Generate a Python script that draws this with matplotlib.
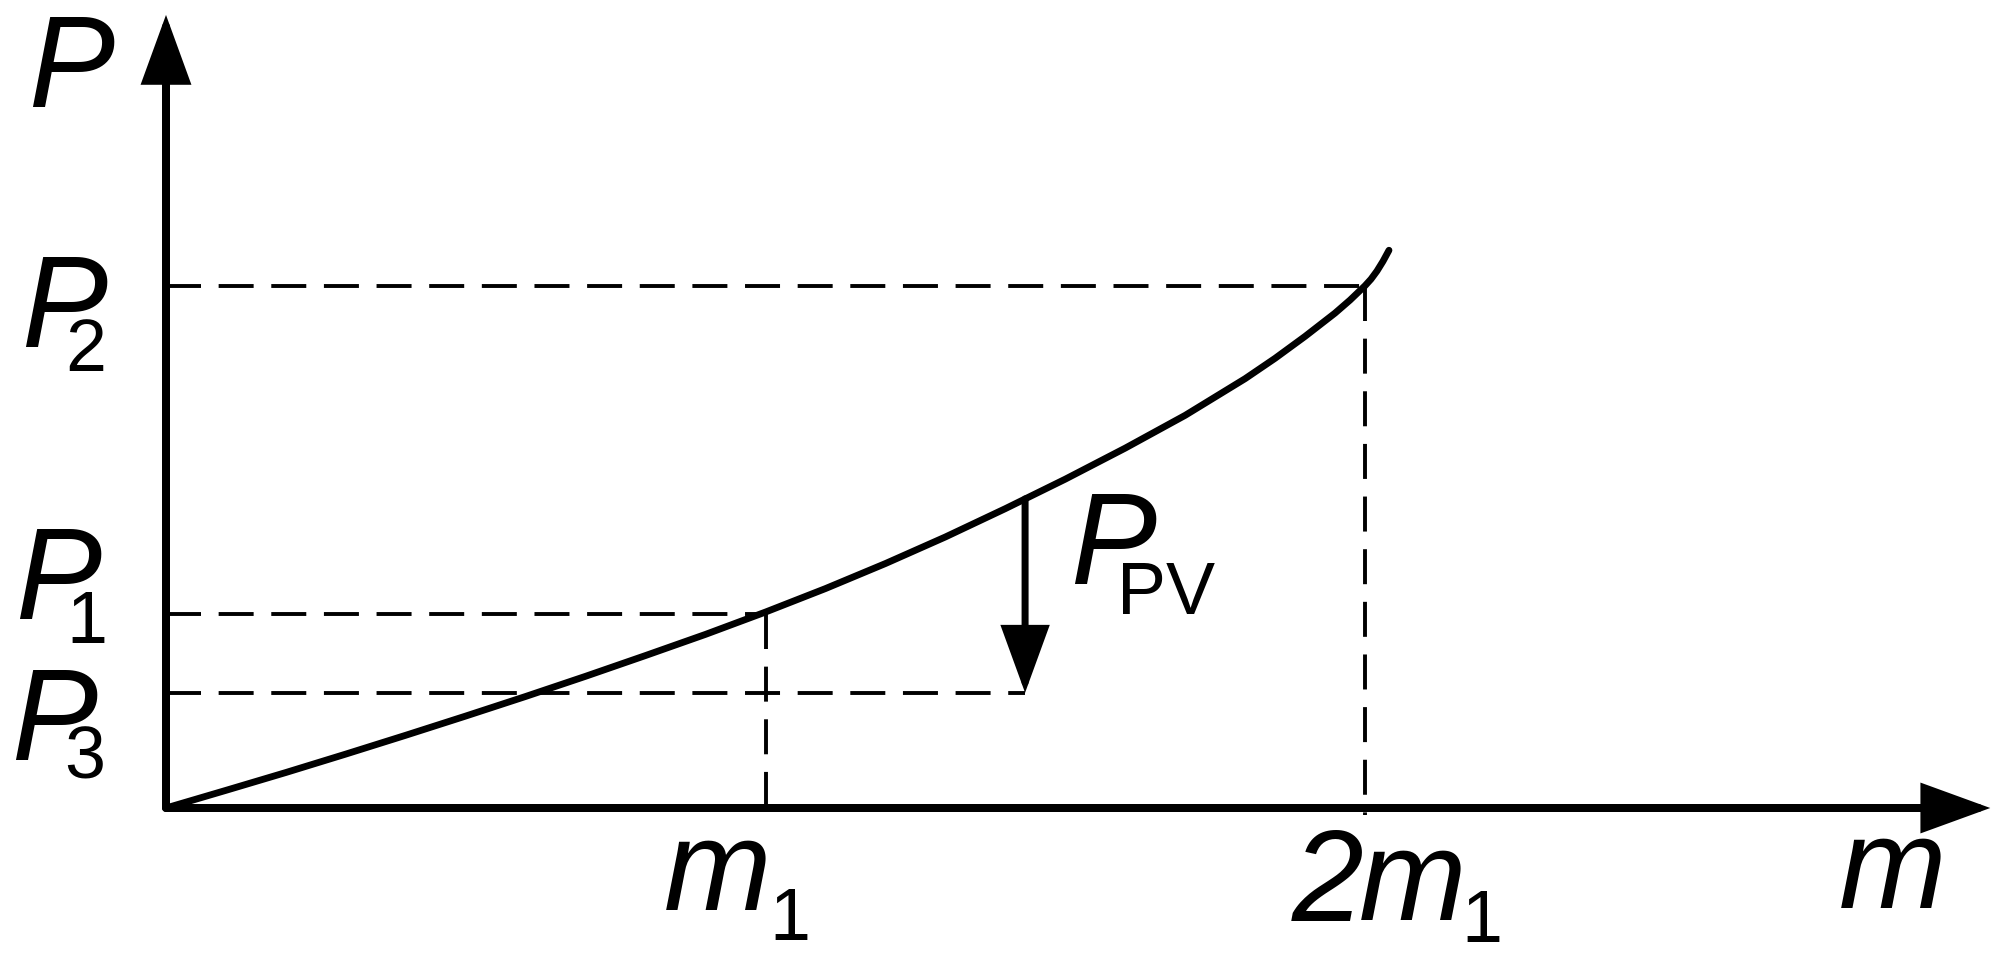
import numpy as np
import matplotlib
matplotlib.use('Agg')
import matplotlib.pyplot as plt
from matplotlib.patches import FancyArrowPatch

# curve: m in units of m1, P in units of P1
m_curve = [0, 0.1, 0.2, 0.3, 0.4, 0.5, 0.6, 0.7, 0.8, 0.9, 1.0, 1.1, 1.2, 1.3,
           1.4, 1.5, 1.6, 1.7, 1.8, 1.85, 1.9, 1.95, 1.975, 2.0, 2.01, 2.02,
           2.03, 2.04]
p_curve = [0, 0.091, 0.183, 0.278, 0.375, 0.474, 0.575, 0.679, 0.786, 0.895,
           1.010, 1.131, 1.260, 1.397, 1.543, 1.695, 1.855, 2.024, 2.213,
           2.318, 2.431, 2.551, 2.618, 2.692, 2.726, 2.768, 2.818, 2.875]

m_ticks = [1.0, 2.0]
p1 = 1.0
p2 = 2.692
p3 = 0.594
m_pv = 1.433
m_axis_end = 3.043
p_axis_end = 4.088

FONT = 'Liberation Sans'
BIG = 93
SMALL = 53

plt.rcParams['lines.scale_dashes'] = False

fig = plt.figure(figsize=(20.05, 9.63), dpi=100)
ax = fig.add_axes([0, 0, 1, 1])
ax.axis('off')
ax.set_xlim(-166 / 599.5, (2005 - 166) / 599.5)
ax.set_ylim(-(963 - 808) / 194, 808 / 194)


def arrow(x0, y0, x1, y1, lw_px):
    a = FancyArrowPatch((x0, y0), (x1, y1),
                        arrowstyle='-|>,head_length=39,head_width=14.2',
                        mutation_scale=1, lw=lw_px * 0.72, color='black',
                        shrinkA=0, shrinkB=0,
                        joinstyle='miter', capstyle='round')
    ax.add_patch(a)


def label(x, y, s, dx, dy, size, style='italic'):
    ax.annotate(s, xy=(x, y), xytext=(dx, dy), textcoords='offset pixels',
                fontsize=size, fontstyle=style, family=FONT,
                ha='left', va='baseline')


dash = dict(color='black', lw=2.8, linestyle=(0, (25.2, 12.7)),
            dash_capstyle='butt')

# dashed guide lines
p_at_pv = np.interp(m_pv, m_curve, p_curve)
ax.plot([0, m_ticks[1]], [p2, p2], **dash)
ax.plot([0, m_ticks[0]], [p1, p1], **dash)
ax.plot([0, m_pv], [p3, p3], **dash)
ax.plot([m_ticks[0], m_ticks[0]], [p1, -0.036], **dash)
ax.plot([m_ticks[1], m_ticks[1]], [p2, -0.036], **dash)

# axes
arrow(0, 0, m_axis_end, 0, 8)
arrow(0, 0, 0, p_axis_end, 8)

# curve
ax.plot(m_curve, p_curve, color='black', lw=4.9, solid_capstyle='round',
        solid_joinstyle='round')

# P_PV arrow
arrow(m_pv, p_at_pv, m_pv, p3, 7)

# labels
label(0, p_axis_end, 'P', -138, -92, BIG)
label(m_axis_end, 0, 'm', -151, -100, BIG)

label(0, p2, 'P', -145, -61, BIG)
label(0, p2, '2', -101, -85, SMALL, 'normal')
label(0, p1, 'P', -151, -5, BIG)
label(0, p1, '1', -100, -29, SMALL, 'normal')
label(0, p3, 'P', -155, -67, BIG)
label(0, p3, '3', -102, -86, SMALL, 'normal')

label(m_ticks[0], 0, 'm', -102, -102, BIG)
label(m_ticks[0], 0, '1', 4, -132, SMALL, 'normal')
label(m_ticks[1], 0, '2', -73, -113, BIG)
label(m_ticks[1], 0, 'm', -6, -112, BIG)
label(m_ticks[1], 0, '1', 96, -134, SMALL, 'normal')

label(m_pv, p_at_pv, 'P', 45, -85, BIG)
label(m_pv, p_at_pv, 'PV', 92, -115, SMALL, 'normal')

fig.savefig('out.png', dpi=100)
